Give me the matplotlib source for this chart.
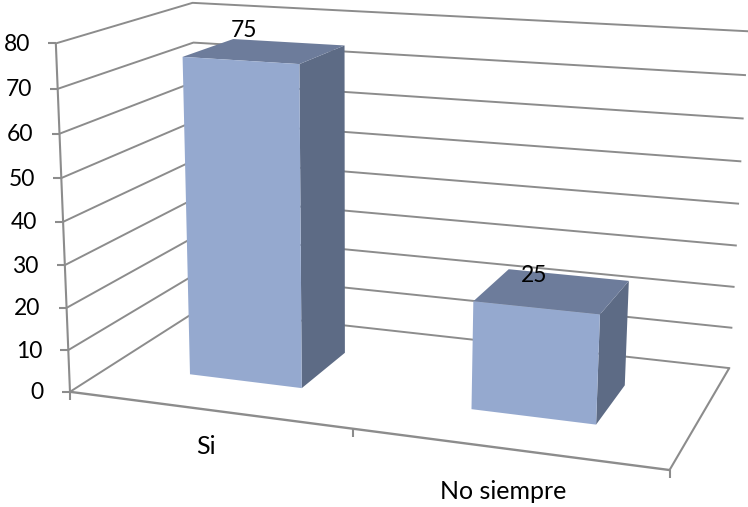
import numpy as np
import matplotlib
matplotlib.use('Agg')
import matplotlib.pyplot as plt
from matplotlib.patches import Polygon

categories = ['Si', 'No siempre']
values = [75, 25]
ticks = [0, 10, 20, 30, 40, 50, 60, 70, 80]

# box coordinates (category, depth, value) and where they land on the canvas
box_points = [(0, 0, 0), (1, 0, 0), (2, 0, 0), (2, 1, 0), (0, 1, 0),
              (0, 0, 80), (0, 1, 80), (2, 1, 80), (2, 1, 40)]
canvas_points = [(72, 391), (353, 429), (669, 471), (730, 367), (197, 310),
                 (54, 43), (194.5, 3), (747, 31.5), (738, 203.5)]


def fit_camera(src, dst):
    rows = []
    for (x, y, z), (u, v) in zip(src, dst):
        rows.append([x, y, z, 1, 0, 0, 0, 0, -u*x, -u*y, -u*z, -u])
        rows.append([0, 0, 0, 0, x, y, z, 1, -v*x, -v*y, -v*z, -v])
    _, _, vt = np.linalg.svd(np.array(rows, dtype=float))
    return vt[-1].reshape(3, 4)


cam = fit_camera(box_points, canvas_points)


def proj(x, y, z):
    p = cam @ np.array([x, y, z, 1.0])
    return p[0]/p[2], p[1]/p[2]


line_col = '#8C8C8C'
front_col = '#95A9CF'
side_col = '#5D6B85'
top_col = '#6D7C9B'

plt.rcParams['font.family'] = ['Lato', 'DejaVu Sans']

fig = plt.figure(figsize=(7.48, 5.07), dpi=100)
ax = fig.add_axes([0, 0, 1, 1])
ax.set_xlim(0, 748)
ax.set_ylim(507, 0)
ax.axis('off')


def seg(a, b, lw=1.5):
    ax.plot([a[0], b[0]], [a[1], b[1]], color=line_col, lw=lw, solid_capstyle='butt', zorder=1)


# gridlines run along the left wall and then the back wall
for t in ticks:
    pts = [proj(0, 0, t), proj(0, 1, t), proj(2, 1, t)]
    ax.plot(*zip(*pts), color=line_col, lw=1.4, zorder=1)
    x0, y0 = proj(0, 0, t)
    seg((x0-8, y0), (x0, y0))
    ax.text(x0-26, y0+1, str(t), ha='right', va='center', fontsize=16.5, color='black')

# value axis and floor outline
seg(proj(0, 0, 0), proj(0, 0, 80))
seg(proj(0, 0, 0), proj(2, 0, 0), lw=1.7)
seg(proj(2, 0, 0), proj(2, 1, 0))
for i in range(3):
    x0, y0 = proj(i, 0, 0)
    seg((x0, y0), (x0, y0+8))

# bars
bar_w = 0.41
d0, d1 = 0.3, 0.7
label_offsets = [(-21, -21), (-18, -15)]
cat_offsets = [37, 43]
cat_shift = [-2, -3]
for i, (name, val) in enumerate(zip(categories, values)):
    l = i + 0.5 - bar_w/2
    r = i + 0.5 + bar_w/2
    side = [proj(r, d0, 0), proj(r, d1, 0), proj(r, d1, val), proj(r, d0, val)]
    top = [proj(l, d0, val), proj(r, d0, val), proj(r, d1, val), proj(l, d1, val)]
    front = [proj(l, d0, 0), proj(r, d0, 0), proj(r, d0, val), proj(l, d0, val)]
    ax.add_patch(Polygon(side, closed=True, fc=side_col, ec='none', zorder=2))
    ax.add_patch(Polygon(top, closed=True, fc=top_col, ec='none', zorder=2))
    ax.add_patch(Polygon(front, closed=True, fc=front_col, ec='none', zorder=3))

    tx, ty = proj(i + 0.5, 0.5, val)
    ax.text(tx+label_offsets[i][0], ty+label_offsets[i][1], str(val), ha='center', va='center',
            fontsize=16.5, color='black', zorder=4)
    cx, cy = proj(i + 0.5, 0, 0)
    ax.text(cx+cat_shift[i], cy+cat_offsets[i], name, ha='center', va='center', fontsize=18, color='black')

fig.savefig('out.png', dpi=100)
